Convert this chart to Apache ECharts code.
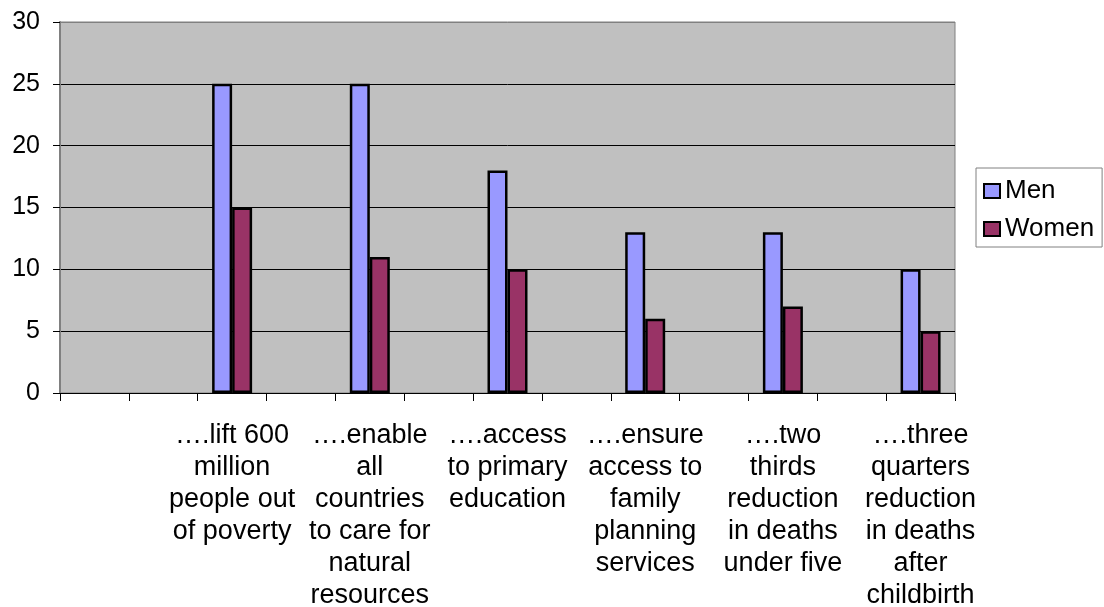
<!DOCTYPE html>
<html>
<head>
<meta charset="utf-8">
<script src="https://cdn.jsdelivr.net/npm/echarts@6/dist/echarts.min.js"></script>
<style>html,body{margin:0;padding:0;background:#fff}#c{width:1104px;height:607px}</style>
</head>
<body>
<div id="c"></div>
<script>
const categories = [
  "", "",
  "….lift 600\nmillion\npeople out\nof poverty", "",
  "….enable\nall\ncountries\nto care for\nnatural\nresources", "",
  "….access\nto primary\neducation", "",
  "….ensure\naccess to\nfamily\nplanning\nservices", "",
  "….two\nthirds\nreduction\nin deaths\nunder five", "",
  "….three\nquarters\nreduction\nin deaths\nafter\nchildbirth"
];
const men   = [null, null, 25, null, 25, null, 18, null, 13, null, 13, null, 10];
const women = [null, null, 15, null, 11, null, 10, null, 6, null, 7, null, 5];
const yTicks = [0, 5, 10, 15, 20, 25, 30];

const FONT = "'Liberation Sans', Arial, sans-serif";
const chart = echarts.init(document.getElementById('c'));
chart.setOption({
  animation: false,
  textStyle: { fontFamily: FONT },
  grid: { left: 60, right: 149, top: 22, bottom: 214, show: true,
          containLabel: false, outerBoundsMode: 'none',
          backgroundColor: '#C0C0C0', borderColor: '#808080', borderWidth: 1 },
  legend: {
    orient: 'vertical', left: 976, top: 168,
    icon: 'rect',
    itemWidth: 16, itemHeight: 14, itemGap: 12,
    padding: [10, 8, 5, 7],
    borderColor: '#808080', borderWidth: 1,
    textStyle: { fontSize: 26, color: '#000', fontFamily: FONT },
    data: ['Men', 'Women']
  },
  xAxis: {
    type: 'category', data: categories, boundaryGap: true,
    axisLine: { lineStyle: { color: '#000', width: 1 } },
    axisTick: { show: true, interval: 0, length: 8, lineStyle: { color: '#000' } },
    axisLabel: { interval: 0, color: '#000', fontSize: 27, lineHeight: 32, margin: 27, fontFamily: FONT, align: 'center' }
  },
  yAxis: {
    type: 'value', min: yTicks[0], max: yTicks[yTicks.length - 1], interval: yTicks[1] - yTicks[0],
    axisLine: { show: true, lineStyle: { color: '#808080', width: 2 } },
    axisTick: { show: true, length: 7, lineStyle: { color: '#000' } },
    axisLabel: { color: '#000', fontSize: 25, margin: 20, fontFamily: FONT },
    splitLine: { show: true, lineStyle: { color: ['#000', '#000', '#000', '#000', '#000', '#000', '#808080'], width: 1 } }
  },
  series: [
    { name: 'Men', type: 'bar', data: men, barWidth: 20, barGap: '0%',
      itemStyle: { color: '#9999FF', borderColor: '#000', borderWidth: 2.5 } },
    { name: 'Women', type: 'bar', data: women, barWidth: 20, barGap: '0%',
      itemStyle: { color: '#993366', borderColor: '#000', borderWidth: 2.5 } }
  ]
});
</script>
</body>
</html>
